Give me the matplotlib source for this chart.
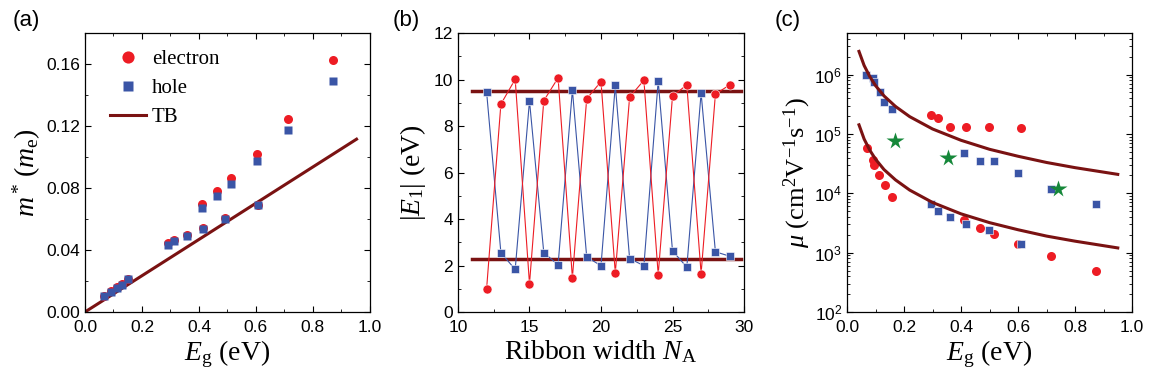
import matplotlib
matplotlib.use('Agg')
import matplotlib.pyplot as plt
import matplotlib.ticker as ticker
import numpy as np

plt.rcParams.update({
    'font.family': 'Liberation Sans', 'font.size': 12,
    'mathtext.fontset': 'custom',
    'mathtext.rm': 'Liberation Serif',
    'mathtext.it': 'Liberation Serif:italic',
    'mathtext.sf': 'Liberation Sans',
    'xtick.direction': 'in', 'ytick.direction': 'in',
    'xtick.top': True, 'ytick.right': True,
    'xtick.major.size': 4, 'ytick.major.size': 4,
    'xtick.minor.size': 2, 'ytick.minor.size': 2,
    'xtick.minor.visible': True, 'ytick.minor.visible': True,
    'xtick.major.pad': 6,
    'axes.linewidth': 0.9,
})

RED = '#ed1c24'
BLUE = '#3a55a6'
DARK = '#7a1212'
GREEN = '#16883a'
SERIF = 'Liberation Serif'

# (a) effective mass vs band gap
eg_e_a = [0.067, 0.090, 0.111, 0.129, 0.152, 0.291, 0.314, 0.359, 0.412, 0.415,
          0.463, 0.492, 0.512, 0.602, 0.608, 0.711, 0.870]
m_e_a = [0.0105, 0.0135, 0.0162, 0.0180, 0.0215, 0.0445, 0.0463, 0.0498, 0.0695, 0.0540,
         0.0780, 0.0607, 0.0863, 0.1017, 0.0692, 0.1245, 0.1625]
eg_h_a = eg_e_a
m_h_a = [0.0103, 0.0130, 0.0158, 0.0176, 0.0210, 0.0435, 0.0455, 0.0490, 0.0670, 0.0535,
         0.0750, 0.0600, 0.0824, 0.0972, 0.0688, 0.1176, 0.1488]
tb_eg_a = [0.0, 0.953]
tb_m_a = [0.0, 0.1115]

# (b) |E1| vs ribbon width
na = list(range(12, 30))
e1_red = [0.99, 8.94, 10.01, 1.21, 9.09, 10.07, 1.47, 9.17, 9.91,
          1.68, 9.24, 9.97, 1.61, 9.28, 9.77, 1.65, 9.37, 9.77]
e1_blue = [9.47, 2.55, 1.83, 9.08, 2.55, 2.03, 9.55, 2.37, 1.99,
           9.76, 2.30, 1.99, 9.94, 2.63, 1.93, 9.42, 2.59, 2.40]
tb_levels_b = [9.51, 2.29]
tb_range_b = [11.0, 29.8]

# (c) mobility vs band gap
eg_e_c = [0.069, 0.092, 0.096, 0.113, 0.133, 0.157,
          0.295, 0.318, 0.361, 0.416, 0.497, 0.609,
          0.412, 0.467, 0.515, 0.599, 0.715, 0.873]
mu_e_c = [5.7e4, 3.6e4, 3.0e4, 2.0e4, 1.37e4, 8.7e3,
          2.1e5, 1.85e5, 1.33e5, 1.33e5, 1.33e5, 1.25e5,
          3.48e3, 2.62e3, 2.02e3, 1.40e3, 867, 489]
eg_h_c = [0.0655, 0.092, 0.096, 0.116, 0.131, 0.157,
          0.412, 0.467, 0.515, 0.601, 0.715, 0.873,
          0.295, 0.318, 0.361, 0.416, 0.497, 0.609]
mu_h_c = [9.75e5, 8.8e5, 7.5e5, 5.1e5, 3.45e5, 2.58e5,
          4.76e4, 3.48e4, 3.48e4, 2.18e4, 1.2e4, 6.7e3,
          6.7e3, 4.95e3, 3.97e3, 3.06e3, 2.42e3, 1.42e3]
eg_star_c = [0.168, 0.353, 0.739]
mu_star_c = [7.5e4, 4.0e4, 1.2e4]
tb_eg_c = [0.042, 0.06, 0.08, 0.10, 0.13, 0.17, 0.22, 0.30, 0.40, 0.50, 0.60, 0.70, 0.80, 0.95]
tb_hi_c = [2.45e6, 1.42e6, 9.2e5, 6.5e5, 4.35e5, 2.9e5, 1.95e5, 1.21e5, 7.8e4, 5.5e4,
           4.2e4, 3.3e4, 2.7e4, 2.08e4]
tb_lo_c = [1.42e5, 8.2e4, 5.3e4, 3.75e4, 2.5e4, 1.68e4, 1.13e4, 7.0e3, 4.5e3, 3.2e3,
           2.43e3, 1.9e3, 1.56e3, 1.2e3]

fig = plt.figure(figsize=(11.51, 3.86), dpi=100)
bottom, height = 0.1917, 0.7228
ax1 = fig.add_axes([0.0738, bottom, 0.2476, height])
ax2 = fig.add_axes([0.3979, bottom, 0.2485, height])
ax3 = fig.add_axes([0.7359, bottom, 0.2476, height])

# --- (a) ---
ax1.plot(eg_e_a, m_e_a, 'o', color=RED, ms=6.5, mec='none', label='electron', zorder=3)
ax1.plot(eg_h_a, m_h_a, 's', color=BLUE, ms=5.5, mec='none', label='hole', zorder=4)
ax1.plot(tb_eg_a, tb_m_a, '-', color=DARK, lw=2.2, label='TB', zorder=2)
ax1.set_xlim(0, 1.0)
ax1.set_ylim(0, 0.18)
ax1.xaxis.set_major_locator(ticker.MultipleLocator(0.2))
ax1.xaxis.set_minor_locator(ticker.MultipleLocator(0.1))
ax1.yaxis.set_major_locator(ticker.MultipleLocator(0.04))
ax1.yaxis.set_minor_locator(ticker.MultipleLocator(0.02))
ax1.xaxis.set_major_formatter(ticker.FormatStrFormatter('%.1f'))
ax1.yaxis.set_major_formatter(ticker.FormatStrFormatter('%.2f'))
ax1.set_xlabel(r'$E_\mathrm{g}$ (eV)', fontsize=20, family=SERIF, labelpad=2)
ax1.set_ylabel(r'$m^*\,(m_\mathrm{e})$', fontsize=20, family=SERIF, labelpad=2)
leg = ax1.legend(loc='upper left', bbox_to_anchor=(0.06, 0.97), frameon=False,
                 prop={'family': SERIF, 'size': 15},
                 handlelength=1.7, handletextpad=0.3, borderaxespad=0.0,
                 labelspacing=0.45, markerscale=1.35)

# --- (b) ---
ax2.plot(na, e1_blue, '-s', color=BLUE, lw=0.8, ms=6, mec='white', mew=0.4, zorder=3)
ax2.plot(na, e1_red, '-o', color=RED, lw=0.8, ms=6.5, mec='white', mew=0.4, zorder=4)
for lev in tb_levels_b:
    ax2.plot(tb_range_b, [lev, lev], '-', color=DARK, lw=2.5, zorder=2)
ax2.set_xlim(10, 30)
ax2.set_ylim(0, 12)
ax2.xaxis.set_major_locator(ticker.MultipleLocator(5))
ax2.xaxis.set_minor_locator(ticker.MultipleLocator(2.5))
ax2.yaxis.set_major_locator(ticker.MultipleLocator(2))
ax2.yaxis.set_minor_locator(ticker.MultipleLocator(1))
ax2.set_xlabel(r'Ribbon width $N_\mathrm{A}$', fontsize=20, family=SERIF, labelpad=2)
ax2.set_ylabel(r'$|E_1|$ (eV)', fontsize=20, family=SERIF, labelpad=4)

# --- (c) ---
ax3.set_yscale('log')
ax3.plot(eg_e_c, mu_e_c, 'o', color=RED, ms=6.5, mec='none', zorder=3)
ax3.plot(eg_h_c, mu_h_c, 's', color=BLUE, ms=6, mec='white', mew=0.4, zorder=4)
ax3.plot(tb_eg_c, tb_hi_c, '-', color=DARK, lw=2.2, zorder=5)
ax3.plot(tb_eg_c, tb_lo_c, '-', color=DARK, lw=2.2, zorder=5)
ax3.plot(eg_star_c, mu_star_c, '*', color=GREEN, ms=13, mec='none', zorder=6)
ax3.set_xlim(0, 1.0)
ax3.set_ylim(1e2, 5e6)
ax3.xaxis.set_major_locator(ticker.MultipleLocator(0.2))
ax3.xaxis.set_minor_locator(ticker.MultipleLocator(0.1))
ax3.xaxis.set_major_formatter(ticker.FormatStrFormatter('%.1f'))
ax3.yaxis.set_major_locator(ticker.LogLocator(base=10, numticks=10))
ax3.yaxis.set_minor_locator(ticker.LogLocator(base=10, subs=np.arange(2, 10), numticks=10))
ax3.yaxis.set_minor_formatter(ticker.NullFormatter())
ax3.yaxis.set_major_formatter(ticker.FuncFormatter(
    lambda v, p: r'$\mathsf{10^{%d}}$' % round(np.log10(v))))
ax3.set_xlabel(r'$E_\mathrm{g}$ (eV)', fontsize=20, family=SERIF, labelpad=2)
ax3.set_ylabel(r'$\mu$ (cm$^2$V$^{-1}$s$^{-1}$)', fontsize=19, family=SERIF, labelpad=1)

for ax in (ax1, ax2, ax3):
    ax.tick_params(labelsize=12.5)

fig.text(0.011, 0.975, '(a)', fontsize=16, va='top')
fig.text(0.341, 0.975, '(b)', fontsize=16, va='top')
fig.text(0.673, 0.975, '(c)', fontsize=16, va='top')

fig.savefig('out.png', dpi=100)
